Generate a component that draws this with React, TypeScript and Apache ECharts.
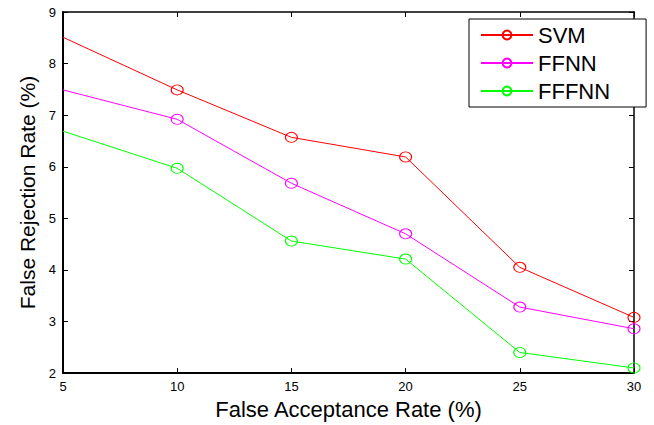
import React, { useEffect, useRef } from "react";
import * as echarts from "echarts";

const xValues = [5, 10, 15, 20, 25, 30];
const svm = [8.51, 7.49, 6.57, 6.19, 4.05, 3.08];
const ffnn = [7.49, 6.92, 5.68, 4.70, 3.28, 2.86];
const fffnn = [6.69, 5.97, 4.56, 4.21, 2.40, 2.10];
const seriesNames = ["SVM", "FFNN", "FFFNN"];
const seriesColors = ["#ff0000", "#ff00ff", "#00ff00"];
const xTitle = "False Acceptance Rate (%)";
const yTitle = "False Rejection Rate (%)";

const FONT = "'Liberation Sans', Arial, Helvetica, sans-serif";

export default function App() {
  const ref = useRef<HTMLDivElement>(null);
  useEffect(() => {
    if (!ref.current) return;
    const chart = echarts.init(ref.current, undefined, { renderer: "svg" });
    const allData = [svm, ffnn, fffnn];
    const mkData = (vals: number[]) =>
      vals.map((v, i) =>
        i === 0 ? { value: [xValues[i], v], symbol: "none" } : { value: [xValues[i], v] }
      );
    const axisCommon = (w: number) => ({
      axisLine: { show: true, lineStyle: { color: "#000", width: w } },
      axisTick: { show: true, inside: true, length: 5, lineStyle: { color: "#000", width: 1 } },
      splitLine: { show: false },
    });
    chart.setOption({
      animation: false,
      backgroundColor: "#fff",
      textStyle: { fontFamily: FONT },
      grid: { left: 63, right: 20, top: 12, bottom: 47, containLabel: false },
      legend: {
        show: true,
        data: seriesNames,
        orient: "vertical",
        left: 469,
        top: 19,
        itemWidth: 52,
        itemHeight: 11,
        itemGap: 6,
        padding: [5, 36, 5, 11],
        backgroundColor: "#fff",
        borderColor: "#000",
        borderWidth: 1,
        borderRadius: 0,
        textStyle: { fontFamily: FONT, fontSize: 22, color: "#000" },
      },
      xAxis: [
        {
          type: "value",
          min: 5,
          max: 30,
          interval: 5,
          position: "bottom",
          name: xTitle,
          nameLocation: "middle",
          nameGap: 20,
          nameTextStyle: { fontFamily: FONT, fontSize: 22, color: "#000" },
          axisLabel: { show: true, fontFamily: FONT, fontSize: 13, color: "#000", margin: 7 },
          ...axisCommon(2),
        },
        {
          type: "value",
          min: 5,
          max: 30,
          interval: 5,
          position: "top",
          axisLabel: { show: false },
          ...axisCommon(1.5),
        },
      ],
      yAxis: [
        {
          type: "value",
          min: 2,
          max: 9,
          interval: 1,
          position: "left",
          name: yTitle,
          nameLocation: "middle",
          nameGap: 25,
          nameTextStyle: { fontFamily: FONT, fontSize: 21, color: "#000" },
          axisLabel: { show: true, fontFamily: FONT, fontSize: 13, color: "#000", margin: 7 },
          ...axisCommon(2),
        },
        {
          type: "value",
          min: 2,
          max: 9,
          interval: 1,
          position: "right",
          axisLabel: { show: false },
          ...axisCommon(1.5),
        },
      ],
      series: seriesNames.map((name, k) => ({
        name,
        type: "line",
        xAxisIndex: 0,
        yAxisIndex: 0,
        data: mkData(allData[k]),
        symbol: "circle",
        symbolSize: [12, 10],
        clip: false,
        lineStyle: { color: seriesColors[k], width: 1 },
        itemStyle: { color: "rgba(255,255,255,0)", borderColor: seriesColors[k], borderWidth: 1 },
        emphasis: { disabled: true },
      })),
    });
    return () => chart.dispose();
  }, []);
  return (
    <div
      ref={ref}
      style={{ position: "fixed", left: 0, top: 0, width: 654, height: 425, background: "#fff" }}
    />
  );
}
